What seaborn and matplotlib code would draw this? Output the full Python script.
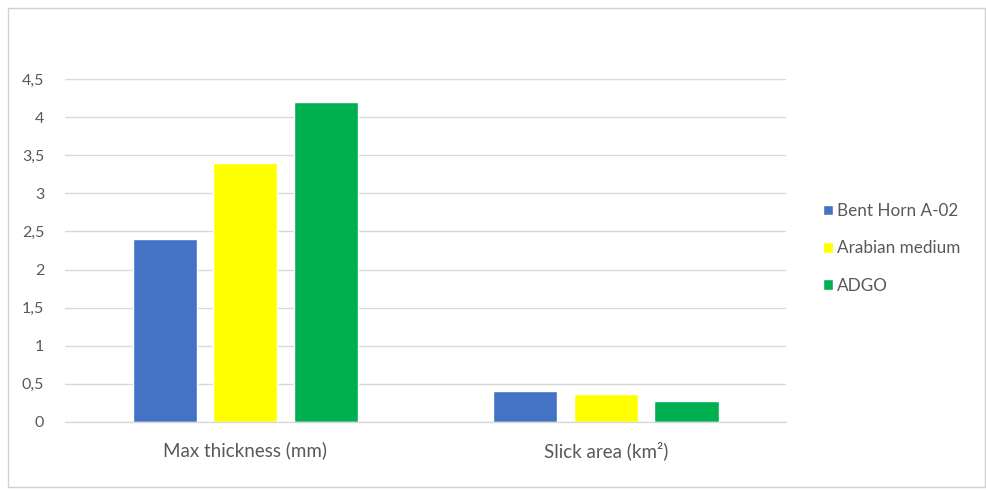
import matplotlib
matplotlib.use("Agg")
import matplotlib.pyplot as plt
import seaborn as sns
import pandas as pd
from matplotlib.patches import Rectangle
from matplotlib.ticker import FuncFormatter, MultipleLocator

# Data
categories = ["Max thickness (mm)", "Slick area (km\u00b2)"]
oils = ["Bent Horn A-02", "Arabian medium", "ADGO"]
bent_horn = [2.4, 0.41]
arabian_medium = [3.4, 0.37]
adgo = [4.2, 0.28]
colors = ["#4472C4", "#FFFF00", "#00B050"]

rows = []
for oil, vals in zip(oils, [bent_horn, arabian_medium, adgo]):
    for cat, v in zip(categories, vals):
        rows.append({"category": cat, "oil": oil, "value": v})
df = pd.DataFrame(rows)

sns.set_theme(style="white")
plt.rcParams["font.family"] = ["Lato", "DejaVu Sans"]
text_color = "#595959"
grid_color = "#d9d9d9"

fig = plt.figure(figsize=(9.87, 4.90), dpi=100)
ax = fig.add_axes([0.0659, 0.1388, 0.7305, 0.7000])

sns.barplot(data=df, x="category", y="value", hue="oil", order=categories,
            hue_order=oils, palette=colors, width=0.67, gap=0.2,
            saturation=1, ax=ax, legend=True)

ax.set_ylim(0, 4.5)
ax.set_xlim(-0.5, 1.5)
ax.yaxis.set_major_locator(MultipleLocator(0.5))
ax.yaxis.set_major_formatter(FuncFormatter(lambda v, p: f"{v:g}".replace(".", ",")))
ax.grid(axis="y", color=grid_color, linewidth=1.0)
ax.set_axisbelow(True)
for s in ["top", "right", "left"]:
    ax.spines[s].set_visible(False)
ax.spines["bottom"].set_color(grid_color)
ax.spines["bottom"].set_linewidth(1.0)
ax.tick_params(axis="both", length=0, colors=text_color)
ax.tick_params(axis="y", pad=15, labelsize=11.5)
ax.tick_params(axis="x", pad=14, labelsize=13.5)
ax.set_xlabel("")
ax.set_ylabel("")

handles, labels = ax.get_legend_handles_labels()
ax.legend_.remove()
fig.legend(handles, labels, loc="upper left", bbox_to_anchor=(0.818, 0.617),
           frameon=False, handlelength=0.6, handleheight=0.6, handletextpad=0.25,
           labelspacing=1.25, fontsize=12.3, labelcolor=text_color)

# chart area border
fig.patches.append(Rectangle((0.008, 0.006), 0.99, 0.978, transform=fig.transFigure,
                             fill=False, edgecolor="#d0d0d0", linewidth=1.0))

fig.savefig("out.png", dpi=100)
